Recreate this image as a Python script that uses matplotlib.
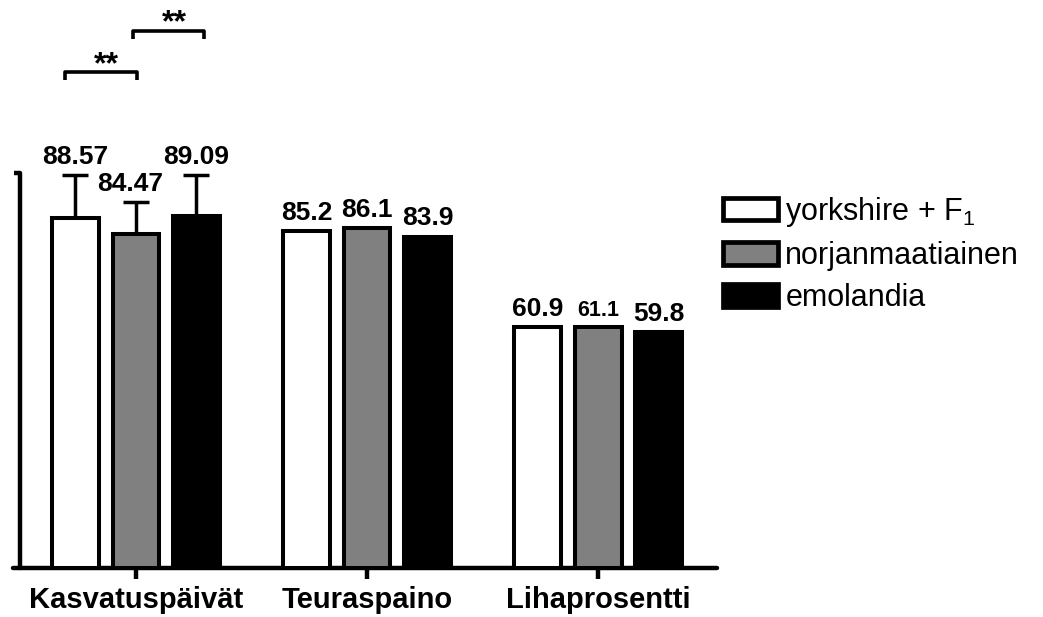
import matplotlib
matplotlib.use("Agg")
import matplotlib.pyplot as plt
import numpy as np

plt.rcParams["font.family"] = ["Liberation Sans", "DejaVu Sans"]
plt.rcParams["mathtext.fontset"] = "custom"
plt.rcParams["mathtext.rm"] = "Liberation Sans"

categories = ["Kasvatuspäivät", "Teuraspaino", "Lihaprosentti"]
series = ["yorkshire + $\\mathregular{F_1}$", "norjanmaatiainen", "emolandia"]
values = [
    [88.57, 85.2, 60.9],   # yorkshire + F1
    [84.47, 86.1, 61.1],   # norjanmaatiainen
    [89.09, 83.9, 59.8],   # emolandia
]
errors_up = [
    [10.9, 0, 0],
    [8.2, 0, 0],
    [10.4, 0, 0],
]
value_labels = [
    ["88.57", "85.2", "60.9"],
    ["84.47", "86.1", "61.1"],
    ["89.09", "83.9", "59.8"],
]
colors = ["white", "#808080", "black"]

LW = 2.9
fig = plt.figure(figsize=(10.43, 6.17), dpi=100)
ax = fig.add_axes([0.0125, 0.0794, 0.6750, 0.6402])

x = np.arange(len(categories))
pitch = 0.262
width = 0.203
for i, (vals, errs, col) in enumerate(zip(values, errors_up, colors)):
    xs = x + (i - 1) * pitch
    ax.bar(xs, vals, width, color=col, edgecolor="black", linewidth=LW,
           label=series[i], zorder=3)
    has_err = [j for j, e in enumerate(errs) if e > 0]
    if has_err:
        ax.errorbar(xs[has_err], np.array(vals)[has_err],
                    yerr=[np.zeros(len(has_err)), np.array(errs)[has_err]],
                    fmt="none", ecolor="black", elinewidth=2.5, capsize=9.5,
                    capthick=2.5, zorder=2)
    for j in range(len(categories)):
        top = vals[j] + errs[j]
        size = 15.5 if value_labels[i][j] == "61.1" else 19
        dx = -4 if value_labels[i][j] == "84.47" else 0
        ax.annotate(value_labels[i][j], (xs[j], top), xytext=(dx, 8),
                    textcoords="offset points", ha="center", va="baseline",
                    fontsize=size, fontweight="bold", annotation_clip=False)

# significance brackets between the Kasvatuspäivät bars
brackets = [(-0.307, 0.004, 125.6), (-0.013, 0.294, 136.0)]
for x0, x1, yb in brackets:
    ax.plot([x0, x0, x1, x1], [yb - 2.0, yb, yb, yb - 2.0], color="black",
            lw=2.6, clip_on=False, solid_capstyle="butt")
    ax.text((x0 + x1) / 2 + 0.025, yb + 5.6, "**", ha="center", va="top",
            fontsize=23, fontweight="bold")

ax.set_xlim(-0.532, 2.515)
ax.set_ylim(0, 100)
ax.set_xticks(x)
ax.set_xticklabels(categories, fontsize=21, fontweight="bold")
ax.set_yticks([100])
ax.set_yticklabels([])
for side in ["top", "right"]:
    ax.spines[side].set_visible(False)
ax.spines["left"].set_position(("data", -0.502))
for side in ["left", "bottom"]:
    ax.spines[side].set_linewidth(3.2)
    ax.spines[side].set_capstyle("round")
ax.tick_params(axis="both", width=3.2, direction="out")
ax.tick_params(axis="x", length=8, pad=5)
ax.tick_params(axis="y", length=4.5)

leg = fig.legend(loc="upper left", bbox_to_anchor=(0.681, 0.704), frameon=False,
                 fontsize=22, handlelength=1.8, handleheight=0.75,
                 handletextpad=0.26, labelspacing=0.4, borderaxespad=0)
for patch in leg.get_patches():
    patch.set_linewidth(3.4)

fig.savefig("out.png", dpi=100)
